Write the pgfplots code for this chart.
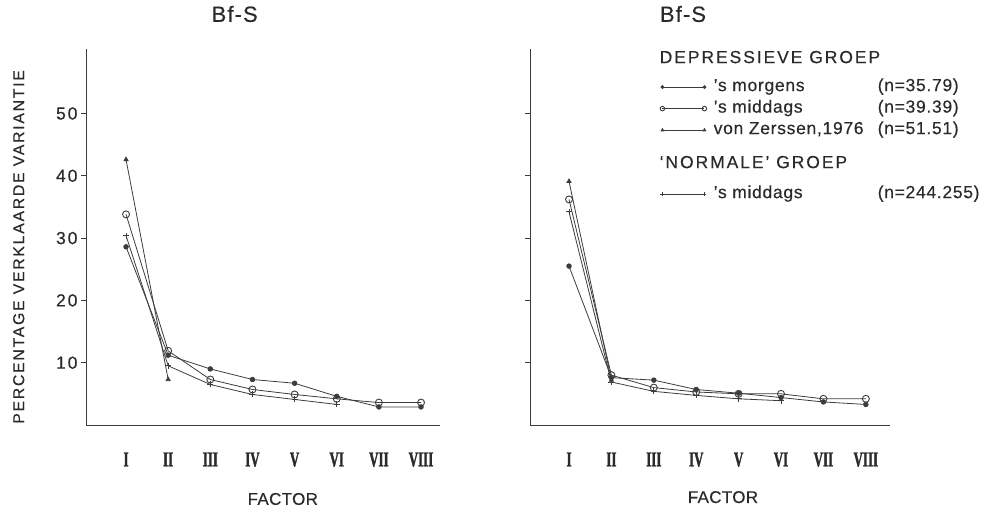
\documentclass[border=0pt]{standalone}
\usepackage{pgfplots}
\pgfplotsset{compat=1.18}
\usepackage{fontspec}
\setmainfont{Liberation Sans}[LetterSpace=2, FakeBold=0.3]
\newfontfamily\wsans{Liberation Sans}[LetterSpace=11, FakeBold=0.3]
\newfontfamily\tsans{Liberation Sans}[LetterSpace=5, FakeBold=0.3]
\newfontfamily\lsans{Liberation Sans}[LetterSpace=4, FakeBold=0.3]
\newfontfamily\hsans{Liberation Sans}[LetterSpace=11, FakeBold=0.3]
\newfontfamily\romfont{Liberation Serif Bold}[FakeStretch=0.62, FakeBold=1.5]
\definecolor{ink}{HTML}{2a2a2a}
\definecolor{ln}{HTML}{3c3c3c}
\begin{document}
\begin{tikzpicture}[x=1pt,y=1pt]
\useasboundingbox (0,0) rectangle (990,508);
\pgfplotsset{
  every axis/.append style={
    scale only axis, axis lines=left, axis line style={-, ln, line width=0.9pt},
    ymin=0, ymax=60.3, height=375.7pt,
    ytick={10,20,30,40,50}, tick align=outside, major tick length=5pt,
    ytick style={ln, line width=0.8pt},
    xtick={1,...,8}, xticklabels={I,II,III,IV,V,VI,VII,VIII},
    xtick style={draw=none},
    xticklabel style={font=\romfont\fontsize{21}{21}\selectfont, text=ink, yshift=-19pt},
    yticklabel style={font=\wsans\fontsize{17.5}{17.5}\selectfont, text=ink},
    /pgf/number format/assume math mode=true,
    xlabel={FACTOR},
    title={Bf-S},
    title style={font=\tsans\fontsize{22}{22}\selectfont, text=ink, anchor=center},
    clip=false,
    legend image code/.code={\draw[#1, mark repeat=1, /tikz/every mark/.append style={scale=0.65}] plot coordinates {(0pt,0pt) (42pt,0pt)};},
  },
  sf/.style={ln, line width=0.8pt, mark=*, mark size=2.3pt, mark options={fill=ln, draw=ln}},
  so/.style={ln, line width=0.8pt, mark=o, mark size=3.5pt, mark options={ln, fill=white, line width=0.9pt}},
  st/.style={ln, line width=0.8pt, mark=triangle*, mark size=2.4pt, mark options={fill=ln, draw=ln}},
  sp/.style={ln, line width=0.8pt, mark=+, mark size=3pt, mark options={ln, line width=0.9pt}},
}
% left panel
\begin{axis}[at={(86pt,83pt)}, anchor=south west, width=354pt, xmin=0.05, xmax=8.45,
  xlabel style={font=\fontsize{17}{17}\selectfont, text=ink, at={(axis description cs:0.556,-0.197)}, anchor=center},
  ylabel={PERCENTAGE VERKLAARDE VARIANTIE},
  ylabel style={font=\wsans\fontsize{15.8}{15.8}\selectfont, text=ink, at={(axis description cs:-0.19,0.474)}, anchor=center},
  title style={at={(axis description cs:0.42,1.078)}},
]
\addplot[st] coordinates {(1,42.6) (2,7.3)};
\addplot[so] coordinates {(1,33.8) (2,11.9) (3,7.3) (4,5.7) (5,4.9) (6,4.2) (7,3.6) (8,3.6)};
\addplot[sp] coordinates {(1,30.4) (2,9.5) (3,6.5) (4,4.9) (5,4.1) (6,3.3)};
\addplot[sf] coordinates {(1,28.6) (2,11.2) (3,9.0) (4,7.3) (5,6.7) (6,4.6) (7,2.9) (8,2.9)};
\end{axis}
% right panel
\begin{axis}[at={(530pt,83pt)}, anchor=south west, width=360pt, xmin=0.08, xmax=8.57,
  yticklabels={},
  xlabel style={font=\fontsize{17}{17}\selectfont, text=ink, at={(axis description cs:0.536,-0.192)}, anchor=center},
  title style={at={(axis description cs:0.425,1.078)}},
  legend style={at={(axis description cs:0.361,1.001)}, anchor=north west, draw=none, fill=none,
    font=\lsans\fontsize{17.5}{17.5}\selectfont, text=ink, row sep=1.5pt, inner sep=0pt,
    nodes={inner sep=1pt, text height=13pt, text depth=5pt}},
  legend cell align=left,
]
\addlegendimage{empty legend}
\addlegendentry[text height=13pt, text depth=11.5pt]{\hspace*{-48pt}\hsans DEPRESSIEVE GROEP}
\addplot[sf] coordinates {(1,25.5) (2,7.6) (3,7.2) (4,5.7) (5,5.1) (6,4.4) (7,3.7) (8,3.3)};
\addlegendentry{\hspace*{6pt}\makebox[164pt][l]{’s morgens}(n=35.79)}
\addplot[so] coordinates {(1,36.2) (2,8.0) (3,6.0) (4,5.3) (5,5.0) (6,5.0) (7,4.2) (8,4.2)};
\addlegendentry{\hspace*{6pt}\makebox[164pt][l]{’s middags}(n=39.39)}
\addplot[st] coordinates {(1,39.1) (2,7.2)};
\addlegendentry{\hspace*{6pt}\makebox[164pt][l]{von Zerssen,1976}(n=51.51)}
\addlegendimage{empty legend}
\addlegendentry[text height=25.5pt, text depth=13.5pt]{\hspace*{-48pt}\hsans ‘NORMALE’ GROEP}
\addplot[sp] coordinates {(1,34.2) (2,6.9) (3,5.4) (4,4.75) (5,4.2) (6,3.9)};
\addlegendentry{\hspace*{6pt}\makebox[164pt][l]{’s middags}(n=244.255)}
\end{axis}
\end{tikzpicture}
\end{document}
